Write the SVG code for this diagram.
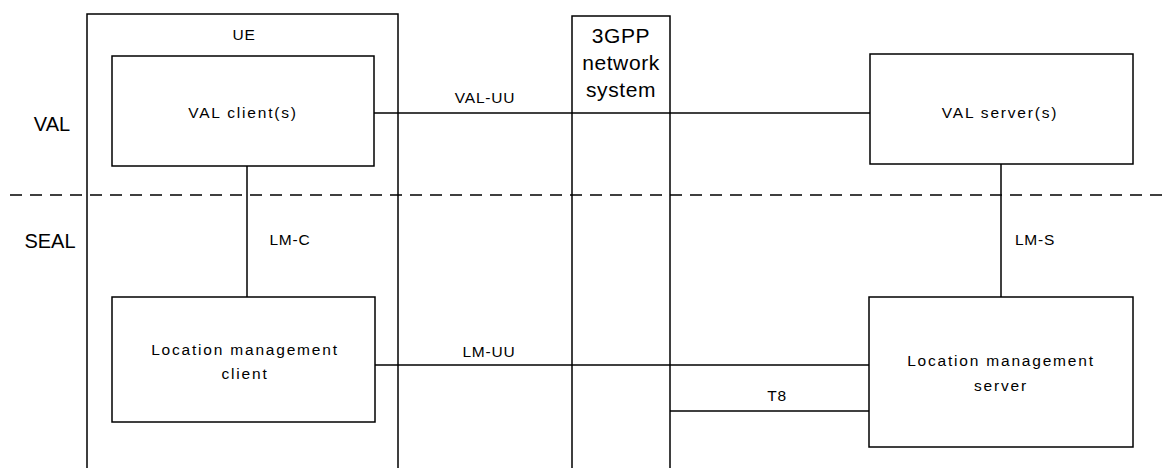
<svg xmlns="http://www.w3.org/2000/svg" width="1169" height="468" viewBox="0 0 1169 468">
<style>
.box{fill:#fff;stroke:#000;stroke-width:1.5}
.ln{stroke:#000;stroke-width:1.5;fill:none}
.dash{stroke:#000;stroke-width:1.5;stroke-dasharray:12,8;fill:none}
text{font-family:"Liberation Sans",Arial,sans-serif;font-size:15.5px;fill:#000;text-anchor:middle;letter-spacing:0.8px}
.nt{letter-spacing:1.8px}
.big{font-size:21px;letter-spacing:0.6px}
.lay{font-size:20px;letter-spacing:0}
</style>
<rect width="1169" height="468" fill="#fff"/>
<g id="ue">
<rect class="box" x="87" y="14" width="311" height="470"/>
<text x="244" y="40">UE</text>
</g>
<g id="network">
<rect class="box" x="572" y="16" width="98" height="470"/>
<text class="big" x="621" y="43">3GPP</text>
<text class="big" x="621" y="70">network</text>
<text class="big" x="621" y="97">system</text>
</g>
<g id="layer-labels">
<text class="lay" x="52" y="131">VAL</text>
<text class="lay" x="50" y="248">SEAL</text>
</g>
<g id="connectors">
<line class="dash" x1="10" y1="195" x2="1169" y2="195"/>
<line class="ln" x1="374" y1="113" x2="871" y2="113"/>
<line class="ln" x1="247" y1="166" x2="247" y2="297"/>
<line class="ln" x1="1001" y1="164" x2="1001" y2="297"/>
<line class="ln" x1="375" y1="365" x2="870" y2="365"/>
<line class="ln" x1="670" y1="411" x2="869" y2="411"/>
<text x="485" y="103">VAL-UU</text>
<text x="290" y="245">LM-C</text>
<text x="1035" y="245">LM-S</text>
<text x="489" y="357">LM-UU</text>
<text x="777" y="401">T8</text>
</g>
<g id="val-client">
<rect class="box" x="112" y="56" width="262" height="110"/>
<text class="nt" x="243" y="118">VAL client(s)</text>
</g>
<g id="val-server">
<rect class="box" x="870" y="54" width="263" height="110"/>
<text class="nt" x="1000" y="118">VAL server(s)</text>
</g>
<g id="lm-client">
<rect class="box" x="112" y="297" width="263" height="125"/>
<text class="nt" x="245" y="355">Location management</text>
<text class="nt" x="245" y="379">client</text>
</g>
<g id="lm-server">
<rect class="box" x="869" y="297" width="264" height="150"/>
<text class="nt" x="1001" y="366">Location management</text>
<text class="nt" x="1001" y="391">server</text>
</g>
</svg>
